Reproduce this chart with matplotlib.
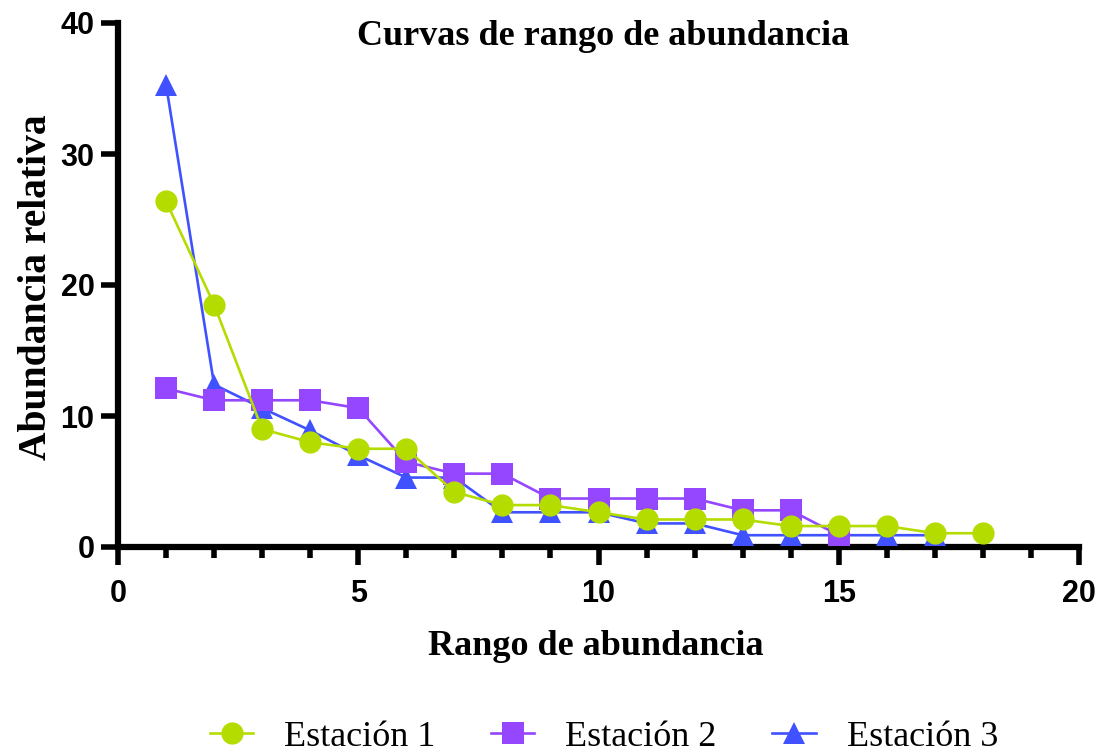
import matplotlib
matplotlib.use("Agg")
import matplotlib.pyplot as plt
from matplotlib.ticker import MultipleLocator

# data
rank_1 = list(range(1, 19))
station_1 = [26.4, 18.5, 9.0, 8.0, 7.5, 7.5, 4.2, 3.2, 3.2, 2.65, 2.1, 2.1, 2.1, 1.6, 1.6, 1.6, 1.05, 1.05]
rank_2 = list(range(1, 16))
station_2 = [12.1, 11.2, 11.2, 11.2, 10.6, 6.5, 5.6, 5.6, 3.7, 3.7, 3.7, 3.7, 2.8, 2.8, 0.9]
rank_3 = list(range(1, 18))
station_3 = [35.3, 12.4, 10.6, 8.9, 7.0, 5.3, 5.3, 2.65, 2.65, 2.65, 1.8, 1.8, 0.9, 0.9, 0.9, 0.9, 0.9]

labels = ["Estación 1", "Estación 2", "Estación 3"]
colors = ["#B5DC00", "#9447FF", "#4052FF"]

serif = "Liberation Serif"
sans = "Liberation Sans"

fig = plt.figure(figsize=(11.04, 7.53), dpi=100)
ax = fig.add_axes([118 / 1104, 206 / 753, 961 / 1104, 524 / 753])

# circles on top, then squares, triangles at the bottom
ax.plot(rank_1, station_1, color=colors[0], marker="o", markersize=16, lw=1.9,
        markeredgewidth=0, label=labels[0], zorder=5, clip_on=False)
ax.plot(rank_2, station_2, color=colors[1], marker="s", markersize=16, lw=1.9,
        markeredgewidth=0, label=labels[1], zorder=4, clip_on=False)
ax.plot(rank_3, station_3, color=colors[2], marker="^", markersize=16, lw=1.9,
        markeredgewidth=0, label=labels[2], zorder=3, clip_on=False)

ax.set_xlim(0, 20)
ax.set_ylim(0, 40)
ax.xaxis.set_major_locator(MultipleLocator(5))
ax.xaxis.set_minor_locator(MultipleLocator(1))
ax.yaxis.set_major_locator(MultipleLocator(10))

for side in ["top", "right"]:
    ax.spines[side].set_visible(False)
for side in ["left", "bottom"]:
    ax.spines[side].set_linewidth(4.5)

ax.tick_params(axis="x", which="major", direction="out", length=13, width=4, pad=10)
ax.tick_params(axis="x", which="minor", direction="out", length=8, width=4)
ax.tick_params(axis="y", which="major", direction="out", length=12, width=4, pad=5)
for lab in ax.get_xticklabels() + ax.get_yticklabels():
    lab.set_fontfamily(sans)
    lab.set_fontweight("bold")
    lab.set_fontsize(22)

ax.set_xlabel("Rango de abundancia", fontfamily=serif, fontweight="bold",
              fontsize=26, va="baseline")
ax.xaxis.set_label_coords(0.497, -0.206)
ax.set_ylabel("Abundancia relativa", fontfamily=serif, fontweight="bold",
              fontsize=28.5, va="baseline")
ax.yaxis.set_label_coords(-0.075, 0.496)

ax.text(0.505, 0.958, "Curvas de rango de abundancia", transform=ax.transAxes,
        fontfamily=serif, fontweight="bold", fontsize=26, ha="center", va="baseline")

fig.legend(loc="center", bbox_to_anchor=(0.547, 0.021), ncol=3, frameon=False,
           prop={"family": serif, "size": 26}, handlelength=1.2,
           handletextpad=0.85, columnspacing=1.55)

fig.savefig("out.png", dpi=100)
